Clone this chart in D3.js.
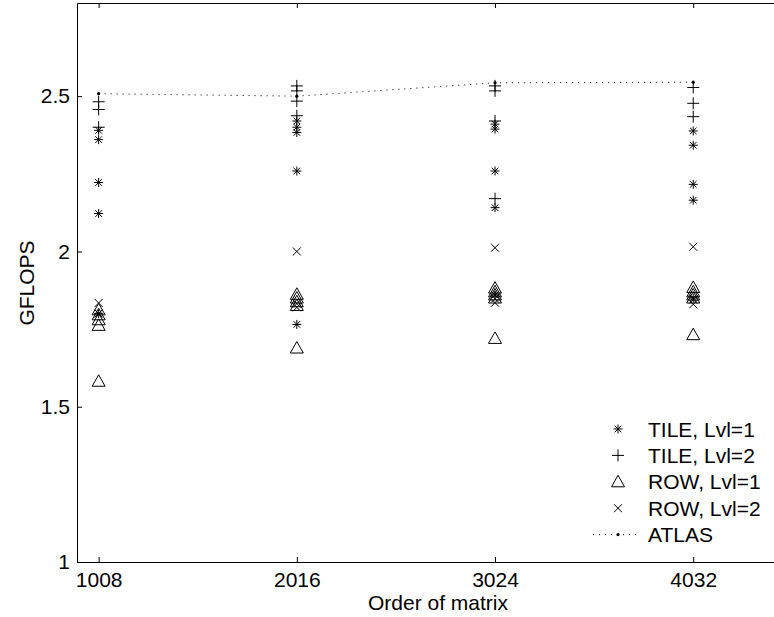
<!DOCTYPE html>
<html>
<head>
<meta charset="utf-8">
<script src="https://cdn.jsdelivr.net/npm/d3@7"></script>
<style>
  body { margin: 0; background: #fff; }
  svg { font-family: "Liberation Sans", Arial, Helvetica, sans-serif; }
  .axis path, .axis line { stroke: #000; stroke-width: 1; }
  .axis text { font-size: 21px; fill: #000; font-family: "Liberation Sans", Arial, sans-serif; }
</style>
</head>
<body>
<div id="chart"></div>
<script>
//matrix orders on the x axis
var sizes = [1008, 2016, 3024, 4032];
//GFLOPS per matrix order, one inner array per column
var tileLvl1 = [[2.39, 2.36, 2.222, 2.122, 1.80],
                [2.42, 2.40, 2.383, 2.259, 1.765],
                [2.41, 2.394, 2.259, 2.141, 1.86],
                [2.388, 2.342, 2.216, 2.165, 1.85]];
var tileLvl2 = [[2.482, 2.457, 2.40],
                [2.533, 2.517, 2.484, 2.437],
                [2.533, 2.517, 2.42, 2.17],
                [2.528, 2.477, 2.434]];
var rowLvl1 = [[1.812, 1.796, 1.78, 1.762, 1.582],
               [1.862, 1.85, 1.838, 1.826, 1.689],
               [1.882, 1.87, 1.86, 1.85, 1.72],
               [1.884, 1.87, 1.86, 1.85, 1.732]];
var rowLvl2 = [[1.834, 1.80],
               [2.0, 1.832, 1.82],
               [2.012, 1.848, 1.835],
               [2.015, 1.845, 1.83]];
var atlas = [2.508, 2.50, 2.543, 2.545];
var yTicks = [1, 1.5, 2, 2.5];
var legendLabels = ["TILE, Lvl=1", "TILE, Lvl=2", "ROW, Lvl=1", "ROW, Lvl=2", "ATLAS"];

var w = 774;
var h = 617;

var svg = d3.select("#chart")
    .append("svg")
    .attr("width", w)
    .attr("height", h);

//scales, the right edge of the box sits just past the window
var xScale = d3.scaleLinear().domain([898, 4453]).range([77, 776]);
var yScale = d3.scaleLinear().domain([1, 2.8]).range([562, 3]);

//marker shapes, matlab style
function markerPath(type) {
    if (type == "star") return "M-4.5,0H4.5M0,-4.5V4.5M-3.3,-3.3L3.3,3.3M-3.3,3.3L3.3,-3.3";
    if (type == "plus") return "M-6,0H6M0,-6V6";
    if (type == "tri") return "M0,-6.5L6.5,5L-6.5,5Z";
    if (type == "x") return "M-4,-4L4,4M-4,4L4,-4";
}

//axes with ticks pointing in
var xAxis = d3.axisBottom(xScale).tickValues(sizes).tickFormat(d3.format("d"))
    .tickSizeInner(-5).tickSizeOuter(0).tickPadding(10);
var yAxis = d3.axisLeft(yScale).tickValues(yTicks).tickFormat(d3.format(""))
    .tickSizeInner(-5).tickSizeOuter(0).tickPadding(7);
var xTop = d3.axisTop(xScale).tickValues(sizes).tickSizeInner(-5).tickSizeOuter(0).tickFormat("");

svg.append("g").attr("class", "axis").attr("transform", "translate(0,562)").call(xAxis);
svg.append("g").attr("class", "axis").attr("transform", "translate(0,3)").call(xTop);
svg.append("g").attr("class", "axis").attr("transform", "translate(77,0)").call(yAxis);
svg.selectAll(".axis .domain").attr("stroke-width", 1.2);

//axis titles
svg.append("text")
    .attr("x", 438).attr("y", 610)
    .attr("text-anchor", "middle")
    .attr("font-size", 21)
    .text("Order of matrix");
svg.append("text")
    .attr("transform", "translate(34,283) rotate(-90)")
    .attr("text-anchor", "middle")
    .attr("font-size", 21)
    .text("GFLOPS");

//ATLAS dotted line
var line = d3.line()
    .x(function(d, i) { return xScale(sizes[i]); })
    .y(function(d) { return yScale(d); });
svg.append("path")
    .datum(atlas)
    .attr("d", line)
    .attr("fill", "none")
    .attr("stroke", "#000")
    .attr("stroke-width", 1)
    .attr("stroke-dasharray", "1,5");

//scatter the measured points
function drawSeries(data, type) {
    var pts = [];
    data.forEach(function(col, i) {
        col.forEach(function(v) { pts.push({x: sizes[i], y: v}); });
    });
    svg.append("g").selectAll("path")
        .data(pts)
        .enter()
        .append("path")
        .attr("transform", function(d) { return "translate(" + xScale(d.x) + "," + yScale(d.y) + ")"; })
        .attr("d", markerPath(type))
        .attr("fill", "none")
        .attr("stroke", "#000")
        .attr("stroke-width", 1);
}
drawSeries(rowLvl1, "tri");
drawSeries(rowLvl2, "x");
drawSeries(tileLvl1, "star");
drawSeries(tileLvl2, "plus");

svg.append("g").selectAll("circle")
    .data(atlas)
    .enter()
    .append("circle")
    .attr("cx", function(d, i) { return xScale(sizes[i]); })
    .attr("cy", function(d) { return yScale(d); })
    .attr("r", 1.6)
    .attr("fill", "#000");

//legend
var legendTypes = ["star", "plus", "tri", "x", "atlas"];
var legend = svg.append("g").attr("transform", "translate(618,429)");
legendTypes.forEach(function(t, i) {
    var g = legend.append("g").attr("transform", "translate(0," + (i * 26.4) + ")");
    if (t == "atlas") {
        g.append("line").attr("x1", -25).attr("x2", 19).attr("y1", 0).attr("y2", 0)
            .attr("stroke", "#000").attr("stroke-dasharray", "1,5");
        g.append("circle").attr("r", 1.6).attr("fill", "#000");
    } else {
        g.append("path").attr("d", markerPath(t)).attr("fill", "none").attr("stroke", "#000");
    }
    g.append("text")
        .attr("x", 30).attr("y", 7.5)
        .attr("font-size", 21)
        .text(legendLabels[i]);
});
</script>
</body>
</html>
